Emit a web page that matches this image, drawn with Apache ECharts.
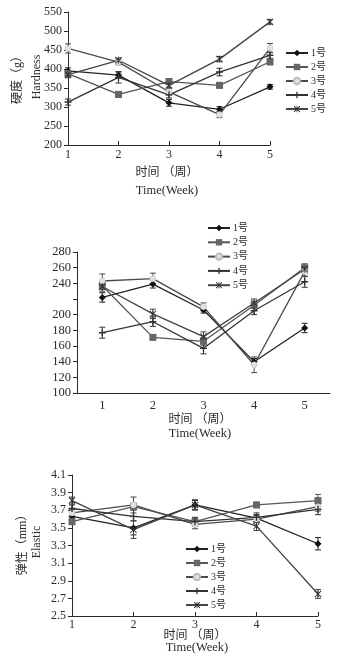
<!DOCTYPE html>
<html><head><meta charset="utf-8">
<script src="https://cdn.jsdelivr.net/npm/echarts@6/dist/echarts.min.js"></script>
<style>
html,body{margin:0;padding:0;background:#fff;width:338px;height:664px;overflow:hidden}
.c{position:absolute;left:0;width:338px}
</style></head>
<body>
<div id="c1" class="c" style="top:0;height:210px"></div>
<div id="c2" class="c" style="top:210px;height:230px"></div>
<div id="c3" class="c" style="top:440px;height:224px"></div>
<script>
const weeks = ['1','2','3','4','5'];
const names = ['1号','2号','3号','4号','5号'];

// Chart 1: Hardness (g)
const hard1 = [395, 384, 311, 294, 353];
const hard2 = [388, 333, 367, 357, 419];
const hard3 = [454, 418, 340, 280, 455];
const hard4 = [313, 378, 332, 392, 436];
const hard5 = [385, 423, 357, 426, 524];
const hardErr1 = [8, 8, 9, 7, 6];
const hardErr2 = [8, 8, 8, 7, 8];
const hardErr3 = [12, 7, 8, 8, 12];
const hardErr4 = [8, 15, 8, 10, 8];
const hardErr5 = [8, 6, 6, 7, 6];
const hardTicks = [200, 550, 50];

// Chart 2: Glue viscosity (g)
const glue1 = [222, 239, 206, 140, 183];
const glue2 = [237, 171, 166, 212, 260];
const glue3 = [243, 246, 210, 136, 255];
const glue4 = [177, 191, 157, 205, 242];
const glue5 = [236, 201, 172, 215, 258];
const glueErr1 = [6, 5, 4, 4, 6];
const glueErr2 = [5, 3, 5, 4, 5];
const glueErr3 = [9, 7, 5, 10, 6];
const glueErr4 = [7, 6, 7, 5, 7];
const glueErr5 = [6, 6, 6, 5, 5];
const glueTicks = [100, 280, 20];

// Chart 3: Elastic (mm)
const ela1 = [3.63, 3.50, 3.76, 3.61, 3.32];
const ela2 = [3.57, 3.74, 3.57, 3.76, 3.81];
const ela3 = [3.67, 3.76, 3.54, 3.60, 3.74];
const ela4 = [3.72, 3.63, 3.57, 3.62, 3.71];
const ela5 = [3.81, 3.48, 3.76, 3.52, 2.75];
const elaErr1 = [0.04, 0.08, 0.05, 0.04, 0.07];
const elaErr2 = [0.03, 0.04, 0.04, 0.03, 0.07];
const elaErr3 = [0.04, 0.09, 0.05, 0.04, 0.05];
const elaErr4 = [0.04, 0.12, 0.05, 0.05, 0.06];
const elaErr5 = [0.04, 0.10, 0.06, 0.05, 0.05];
const elaTicks = [2.5, 4.1, 0.2];

const FONT = "'Liberation Serif','Times New Roman','Noto Sans CJK SC',serif";
const INK = '#2b2b2b';

const styles = [
  {line:'#222', symbol:'diamond', size:7, fill:'#111'},
  {line:'#555', symbol:'rect', size:7, fill:'#666'},
  {line:'#4a4a4a', symbol:'circle', size:6, fill:'#e2e2e2'},
  {line:'#333', symbol:'path://M4,0h2v4h4v2h-4v4h-2v-4h-4v-2h4z', size:7, fill:'#333'},
  {line:'#444', symbol:'path://M1,0L5,4L9,0L10,1L6,5L10,9L9,10L5,6L1,10L0,9L4,5L0,1Z M4.4,0h1.2v10h-1.2Z', size:7, fill:'#333'}
];

function lineSeries(i, data){
  const s = styles[i];
  return {
    name: names[i], type:'line', data: data,
    symbol: s.symbol, symbolSize: s.size, showSymbol:true,
    lineStyle:{color:s.line, width:1.3},
    itemStyle:{color:s.fill, borderColor: i===2 ? '#bbb' : s.fill, borderWidth: i===2 ? 0.5 : 0},
    z: 3
  };
}
function errSeries(i, data, errs){
  const color = styles[i].line;
  return {
    type:'custom', silent:true, z:2,
    encode:{x:0, y:[1,2]},
    data: data.map((v,k)=>[k, v-errs[k], v+errs[k]]),
    renderItem:(params, api)=>{
      const x = api.value(0);
      const p1 = api.coord([x, api.value(1)]);
      const p2 = api.coord([x, api.value(2)]);
      const w = 3;
      const st = {stroke:color, lineWidth:1};
      return {type:'group', children:[
        {type:'line', shape:{x1:p1[0],y1:p1[1],x2:p2[0],y2:p2[1]}, style:st},
        {type:'line', shape:{x1:p1[0]-w,y1:p1[1],x2:p1[0]+w,y2:p1[1]}, style:st},
        {type:'line', shape:{x1:p2[0]-w,y1:p2[1],x2:p2[0]+w,y2:p2[1]}, style:st}
      ]};
    }
  };
}
function txt(x, y, s, size, rot){
  return {type:'text', x:x, y:y, rotation: rot ? Math.PI/2 : 0,
    style:{text:s, fill:INK, font: size+'px '+FONT, align:'center', verticalAlign:'middle'}};
}

function build(el, cfg){
  const chart = echarts.init(document.getElementById(el), null, {renderer:'canvas'});
  const series = [];
  cfg.data.forEach((d,i)=>series.push(errSeries(i, d, cfg.errs[i])));
  cfg.data.forEach((d,i)=>series.push(lineSeries(i, d)));
  chart.setOption({
    animation:false,
    backgroundColor:'#fff',
    textStyle:{fontFamily:FONT},
    grid:cfg.grid,
    legend:Object.assign({orient:'vertical', data:names, itemWidth:22, itemHeight:8, itemGap:cfg.legendGap||4,
      textStyle:{fontSize:10, color:INK, fontFamily:FONT, padding:[0,0,0,-2]}, padding:0}, cfg.legendPos),
    xAxis:{type:'category', data:weeks, boundaryGap:cfg.boundaryGap,
      axisLine:{lineStyle:{color:INK, width:1}},
      axisTick:{inside:true, length:4, lineStyle:{color:INK}},
      axisLabel:{color:INK, fontSize:cfg.fs, margin:cfg.xMargin, fontFamily:FONT}},
    yAxis:{type:'value', min:cfg.ticks[0], max:cfg.ticks[1], interval:cfg.ticks[2],
      splitLine:{show:false},
      axisLine:{show:true, lineStyle:{color:INK, width:1}},
      axisTick:{show:true, length:4, lineStyle:{color:INK}},
      axisLabel:{color:INK, fontSize:cfg.fs, margin:6, fontFamily:FONT, formatter:cfg.fmt}},
    graphic:cfg.graphic,
    series:series
  });
}

build('c1', {
  data:[hard1,hard2,hard3,hard4,hard5],
  errs:[hardErr1,hardErr2,hardErr3,hardErr4,hardErr5],
  ticks:hardTicks, boundaryGap:false, fs:12, xMargin:4,
  grid:{left:68, top:12, width:202, height:133},
  legendPos:{left:285, top:48},
  fmt:v=>String(v),
  graphic:[
    txt(18, 77, '硬度（g）', 12, true),
    txt(37, 77, 'Hardness', 12, true),
    txt(167, 173, '时间 （周）', 12),
    txt(167, 191, 'Time(Week)', 12.5)
  ]
});

build('c2', {
  data:[glue1,glue2,glue3,glue4,glue5],
  errs:[glueErr1,glueErr2,glueErr3,glueErr4,glueErr5],
  ticks:glueTicks, boundaryGap:true, fs:12.5, xMargin:6,
  grid:{left:77, top:42, width:253, height:141},
  legendPos:{left:207, top:13, itemGap:4.3},
  legendGap:4.3,
  fmt:v=> v===220 ? '' : String(v),
  graphic:[
    txt(27, 322, '胶黏性（g）', 11.5, true),
    txt(39, 326, 'Glue viscosity', 12, true),
    txt(200, 210, '时间 （周）', 12),
    txt(200, 224, 'Time(Week)', 12.5)
  ]
});

build('c3', {
  data:[ela1,ela2,ela3,ela4,ela5],
  errs:[elaErr1,elaErr2,elaErr3,elaErr4,elaErr5],
  ticks:elaTicks, boundaryGap:false, fs:12, xMargin:3,
  grid:{left:72, top:35, width:246, height:141},
  legendPos:{left:185, top:104},
  fmt:v=>v.toFixed(1),
  graphic:[
    txt(23, 102, '弹性（mm）', 12, true),
    txt(37, 102, 'Elastic', 12, true),
    txt(195, 196, '时间 （周）', 12),
    txt(197, 208, 'Time(Week)', 12.5)
  ]
});
</script>
</body></html>
